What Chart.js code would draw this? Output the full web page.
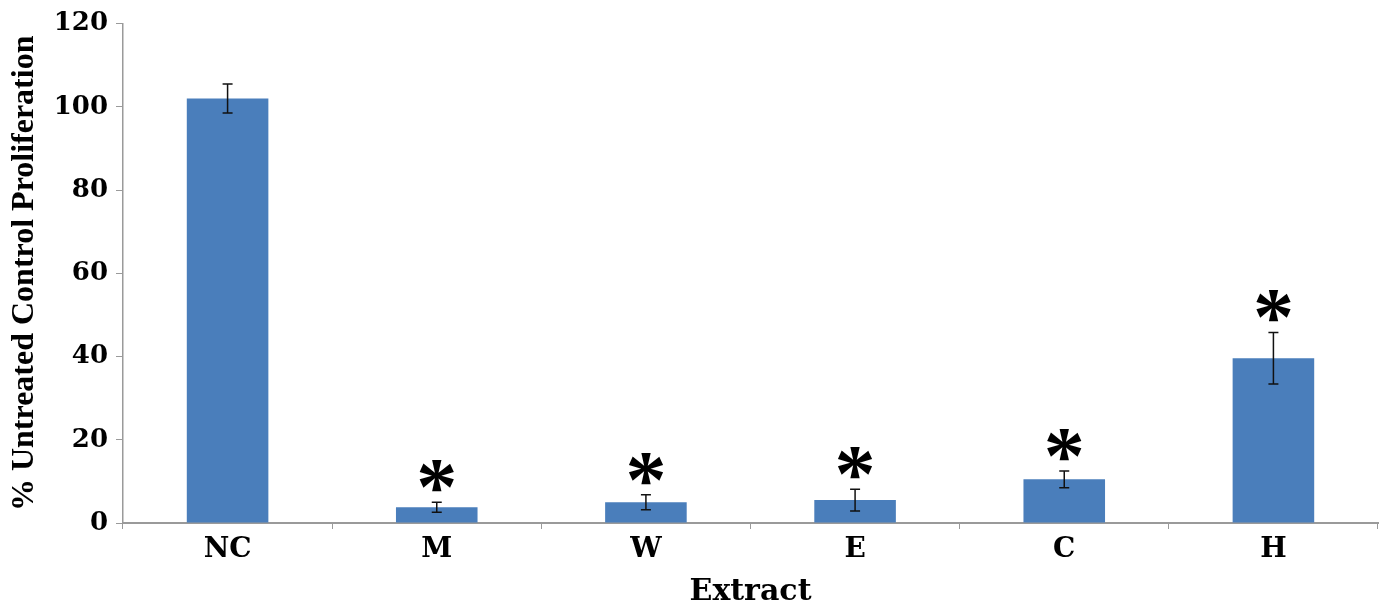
<!DOCTYPE html>
<html>
<head>
<meta charset="utf-8">
<script src="https://cdn.jsdelivr.net/npm/chart.js@4/dist/chart.umd.min.js"></script>
<style>
  html, body { margin: 0; padding: 0; background: #ffffff; }
  #box { width: 1387px; height: 606px; }
</style>
</head>
<body>
<div id="box"><canvas id="chart"></canvas></div>
<script>
// values
var categories = ["NC", "M", "W", "E", "C", "H"];
var proliferation = [102, 3.8, 5.0, 5.5, 10.5, 39.6];
var errors = [3.5, 1.2, 1.8, 2.6, 2.0, 6.2];
var significant = [false, true, true, true, true, true];
var yTicks = [0, 20, 40, 60, 80, 100, 120];

var serif = "'Liberation Serif', 'Times New Roman', serif";
var wideSerif = "'DejaVu Serif', 'Liberation Serif', serif";
var barBlue = "#4a7ebb";

// error bars + asterisks drawn from the scales
var errorBarPlugin = {
    id: "errorBars",
    afterDatasetsDraw: function (chart) {
        var ctx = chart.ctx;
        var x = chart.scales.x;
        var y = chart.scales.y;
        ctx.save();
        for (var i = 0; i < categories.length; i++)
        {
            var cx = x.getPixelForValue(i);
            var top = y.getPixelForValue(proliferation[i] + errors[i]);
            var bot = y.getPixelForValue(proliferation[i] - errors[i]);
            ctx.strokeStyle = "#111111";
            ctx.lineWidth = 1.5;
            ctx.beginPath();
            ctx.moveTo(cx, top);
            ctx.lineTo(cx, bot);
            ctx.moveTo(cx - 5, top);
            ctx.lineTo(cx + 5, top);
            ctx.moveTo(cx - 5, bot);
            ctx.lineTo(cx + 5, bot);
            ctx.stroke();
            if (significant[i])
            {
                ctx.fillStyle = "#000000";
                ctx.font = "bold 82px " + serif;
                ctx.textAlign = "center";
                ctx.textBaseline = "alphabetic";
                var m = ctx.measureText("*");
                var centreY = top - 26;
                ctx.fillText("*", cx, centreY + (m.actualBoundingBoxAscent - m.actualBoundingBoxDescent) / 2);
            }
        }
        ctx.restore();
    }
};

var chart = new Chart(document.getElementById("chart"), {
    type: "bar",
    data: {
        labels: categories,
        datasets: [{
            label: "% Untreated Control Proliferation",
            data: proliferation,
            backgroundColor: barBlue,
            borderWidth: 0,
            barPercentage: 0.39,
            categoryPercentage: 1.0
        }]
    },
    options: {
        responsive: true,
        maintainAspectRatio: false,
        animation: false,
        devicePixelRatio: 1,
        layout: {
            padding: { top: 14, right: 9, left: 4, bottom: 0 }
        },
        plugins: {
            legend: { display: false },
            tooltip: { enabled: false }
        },
        scales: {
            x: {
                offset: true,
                grid: {
                    display: true,
                    offset: true,
                    drawOnChartArea: false,
                    drawTicks: true,
                    tickLength: 6,
                    color: "#9a9a9a"
                },
                border: { display: true, color: "#9a9a9a", width: 2 },
                ticks: {
                    color: "#000000",
                    padding: 4,
                    font: { family: wideSerif, size: 28, weight: "bold" }
                },
                title: {
                    display: true,
                    text: "Extract",
                    color: "#000000",
                    padding: { top: 4, bottom: 0 },
                    font: { family: wideSerif, size: 30, weight: "bold", lineHeight: 0.95 }
                },
                afterFit: function (scale) { scale.height = 83; }
            },
            y: {
                min: 0,
                max: 120,
                afterBuildTicks: function (scale) {
                    scale.ticks = yTicks.map(function (v) { return { value: v }; });
                },
                grid: {
                    display: true,
                    drawOnChartArea: false,
                    drawTicks: true,
                    tickLength: 7,
                    color: "#9a9a9a"
                },
                border: { display: true, color: "#9a9a9a", width: 1.5 },
                ticks: {
                    color: "#000000",
                    padding: 8,
                    font: { family: wideSerif, size: 26, weight: "bold" }
                },
                title: {
                    display: true,
                    text: "% Untreated Control Proliferation",
                    color: "#000000",
                    padding: { top: 2, bottom: 2 },
                    font: { family: serif, size: 32, weight: "bold" }
                },
                afterFit: function (scale) { scale.width = 119; }
            }
        }
    },
    plugins: [errorBarPlugin]
});
</script>
</body>
</html>
